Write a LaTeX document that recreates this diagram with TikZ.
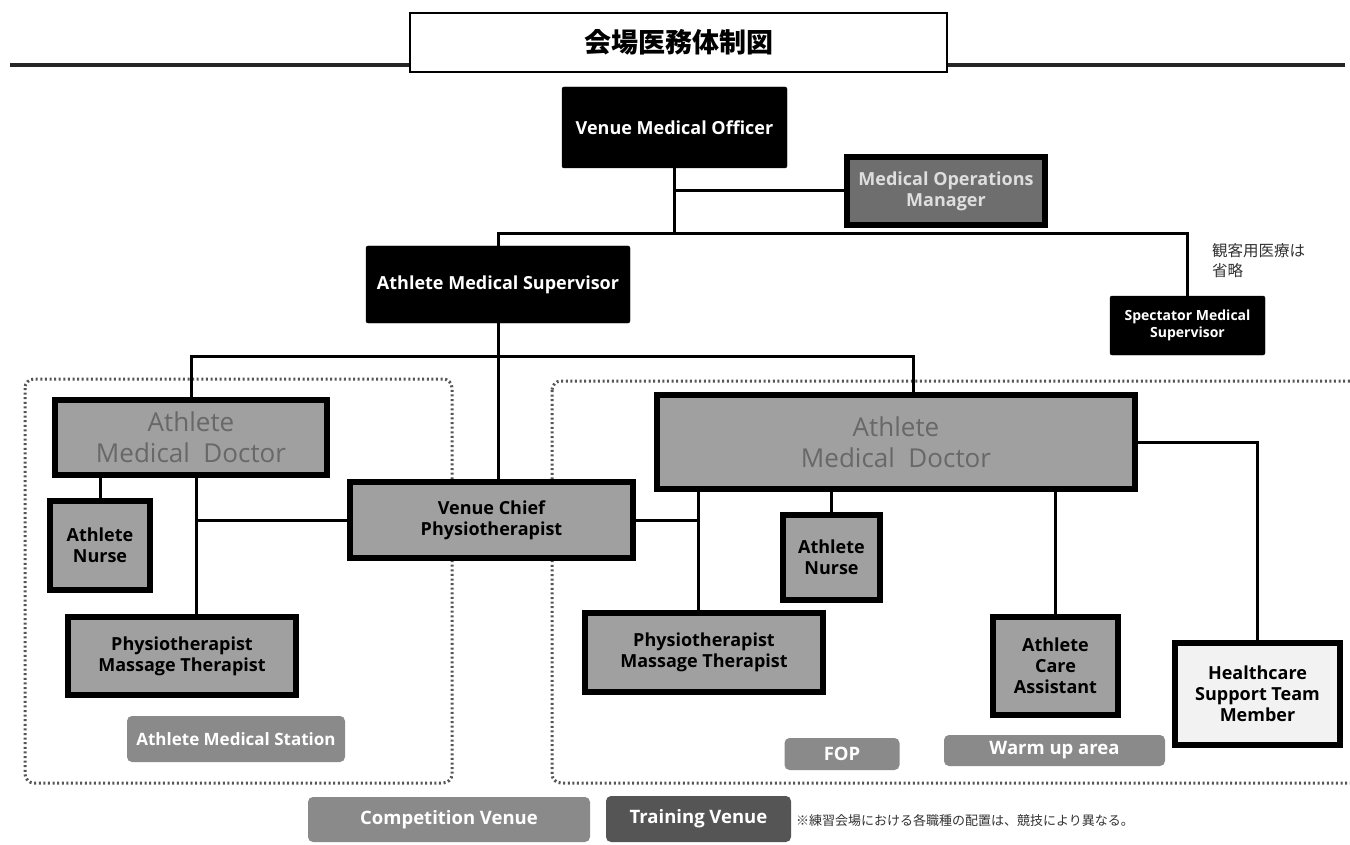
\documentclass[tikz,border=0pt]{standalone}
\usepackage{fontspec}
\setmainfont{Open Sans}
\newfontfamily\jp{Noto Sans CJK JP}
\usetikzlibrary{calc}
\definecolor{boxgray}{HTML}{A0A0A0}
\definecolor{momgray}{HTML}{6E6E6E}
\definecolor{doctxt}{HTML}{686868}
\definecolor{labgray}{HTML}{8A8A8A}
\definecolor{traingray}{HTML}{555555}
\definecolor{dotgray}{HTML}{555555}
\definecolor{hstfill}{HTML}{F2F2F2}
\tikzset{
  blackbox/.style={fill=black, draw=black, rounded corners=2pt, text=white, font=\bfseries\fontsize{18}{21}\selectfont, align=center, inner sep=0pt},
  graybox/.style={fill=boxgray, draw=black, line width=5.5pt, font=\bfseries\fontsize{18}{21}\selectfont, align=center, inner sep=0pt},
  docbox/.style={graybox, text=doctxt, font=\fontsize{26}{31}\selectfont},
  labbox/.style={fill=labgray, rounded corners=5pt, text=white, font=\bfseries\fontsize{18.5}{22}\selectfont, inner sep=0pt},
  conn/.style={line width=3pt, black},
  dotbox/.style={dotgray, line width=3pt, dash pattern=on 2pt off 2.6pt, rounded corners=9pt}
}
\begin{document}
\begin{tikzpicture}[x=1pt,y=-1pt]
\useasboundingbox (0,0) rectangle (1350,845);
\fill[white] (0,0) rectangle (1350,845);
% top rule and title
\draw[line width=4pt, black!85] (10,65) -- (1345,65);
\node[draw=black, line width=1.5pt, fill=white, minimum width=537pt, minimum height=59pt, inner sep=0pt, font=\jp\bfseries\fontsize{27}{31}\selectfont] (title) at (678.5,42.5) {会場医務体制図};
% dotted regions
\draw[dotbox] (25,379) rectangle (452,783);
\draw[dotbox] (552,381) rectangle (1362,783);
% nodes
\node[blackbox, minimum width=225pt, minimum height=81pt] (vmo) at (674.5,127.5) {Venue Medical Officer};
\node[graybox, fill=momgray, text=white!87!black, minimum width=198pt, minimum height=68pt] (mom) at (946,191) {Medical Operations\\Manager};
\node[blackbox, minimum width=264pt, minimum height=77pt] (ams) at (498,284.5) {Athlete Medical Supervisor};
\node[blackbox, minimum width=155pt, minimum height=59pt, font=\bfseries\fontsize{14}{17}\selectfont] (sms) at (1187.5,325.5) {Spectator Medical\\Supervisor};
\node[anchor=north west, align=left, inner sep=0pt, font=\jp\fontsize{15.5}{20}\selectfont, text=black!80] (note) at (1212,243) {観客用医療は\\省略};
\node[docbox, minimum width=272pt, minimum height=75pt] (amdl) at (191,437.5) {Athlete\\Medical\ \ Doctor};
\node[graybox, minimum width=100pt, minimum height=89pt] (anl) at (100,545.5) {Athlete\\Nurse};
\node[graybox, minimum width=283pt, minimum height=76pt] (vcp) at (491.5,520) {Venue Chief\\Physiotherapist};
\node[graybox, minimum width=228pt, minimum height=78pt] (phl) at (182,656) {Physiotherapist\\Massage Therapist};
\node[labbox, font=\bfseries\fontsize{17}{20}\selectfont, minimum width=218pt, minimum height=46pt] (amst) at (236,739) {Athlete Medical Station};
\node[docbox, minimum width=478pt, minimum height=94pt] (amdr) at (896,442) {Athlete\\Medical\ \ Doctor};
\node[graybox, minimum width=97pt, minimum height=85pt] (anr) at (831.5,557.5) {Athlete\\Nurse};
\node[graybox, minimum width=238pt, minimum height=79pt] (phr) at (704,652.5) {Physiotherapist\\Massage Therapist};
\node[graybox, minimum width=125pt, minimum height=98pt] (aca) at (1055.5,666) {Athlete\\Care\\Assistant};
\node[graybox, fill=hstfill, minimum width=165pt, minimum height=102pt] (hst) at (1257.5,694) {Healthcare\\Support Team\\Member};
\node[labbox, minimum width=115pt, minimum height=32pt] (fop) at (842,754) {FOP};
\node[labbox, minimum width=221pt, minimum height=31pt] (wu) at (1054.5,750.5) {Warm up area};
\node[labbox, minimum width=282pt, minimum height=45pt] (cv) at (449,819.5) {Competition Venue};
\node[labbox, fill=traingray, minimum width=185pt, minimum height=46pt] (tv) at (698.5,819) {Training Venue};
\node[anchor=west, inner sep=0pt, font=\jp\fontsize{13}{16}\selectfont, text=black!80] (foot) at (796,821) {※練習会場における各職種の配置は、競技により異なる。};
% junction coordinates
\coordinate (h1) at (0,234);
\coordinate (h2) at (0,356);
\coordinate (c1) at ($(amdr.north)+(17,0)$);
\coordinate (c2) at ($(amdl.south)+(5,0)$);
\coordinate (c3) at (698,489);
% connectors
\draw[conn] (vmo.south) -- (vmo.south |- h1);
\draw[conn] (vmo.south |- mom.west) -- (mom.west);
\draw[conn] (ams.north) -- (ams.north |- h1) -| (sms.north);
\draw[conn] (ams.south) -- (ams.south |- vcp.north);
\draw[conn] (amdl.north) -- (amdl.north |- h2) -| (c1);
\draw[conn] (anl.north |- amdl.south) -- (anl.north);
\draw[conn] (c2) -- (c2 |- phl.north);
\draw[conn] (c2 |- vcp.west) -- (vcp.west);
\draw[conn] (c3) -- (c3 |- phr.north);
\draw[conn] (vcp.east) -- (c3 |- vcp.east);
\draw[conn] (anr.north |- amdr.south) -- (anr.north);
\draw[conn] (aca.north |- amdr.south) -- (aca.north);
\draw[conn] (amdr.east) -| (hst.north);
\end{tikzpicture}
\end{document}
